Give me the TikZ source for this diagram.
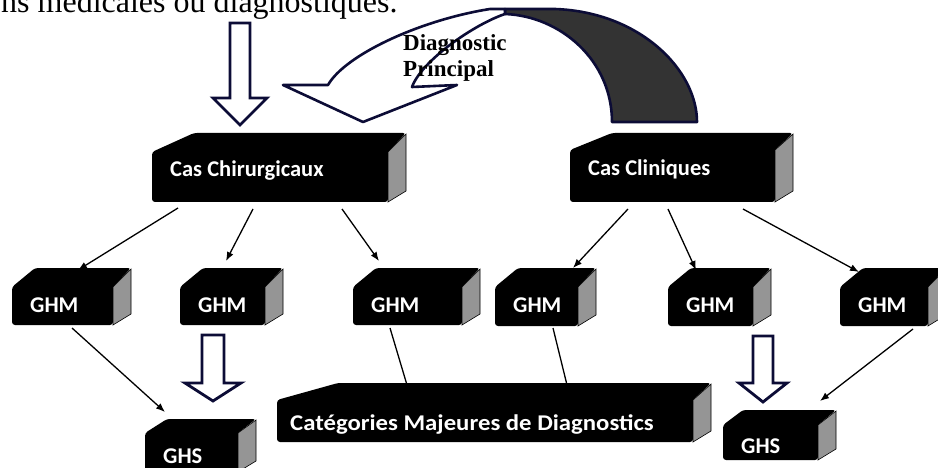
\documentclass[tikz,border=0pt]{standalone}
\usepackage{fontspec}
\setmainfont{Liberation Serif}
\newfontfamily\boxfont{Carlito}
\usetikzlibrary{arrows.meta,calc}

\definecolor{navyline}{HTML}{0C0C36}
\definecolor{sidegray}{HTML}{959595}
\definecolor{bandgray}{HTML}{333333}

% 3D block: name, left, back edge y, front top y, front right x, bottom y,
% left slant offset, text baseline y, text
\newcommand\tdbox[9]{%
  \fill[rounded corners=3pt] (#2,#6) -- (#2,#4) -- (#2+#7,#3) -- (#5+18,#3)
       -- (#5,#4) -- (#5,#6) -- cycle;
  \filldraw[fill=sidegray, draw=black, line width=0.6pt]
       (#5,#4) -- (#5+18,#3+1) -- (#5+18,#6-11) -- (#5,#6) -- cycle;
  \node[boxarea, minimum width={#5+18-#2}, minimum height={#6-#3}] (#1) at (#2,#3) {};
  \node[boxtxt] (#1-t) at (#2+18,#8) {#9};
}

\begin{document}
\begin{tikzpicture}[x=1pt,y=-1pt,
  boxarea/.style={anchor=north west, inner sep=0pt, outer sep=0pt, shape=rectangle},
  boxtxt/.style={anchor=base west, inner sep=0pt, text=white,
                 font=\boxfont\bfseries\fontsize{22.5}{26}\selectfont},
  thinarrow/.style={line width=1.3pt, -{Latex[length=9pt,width=7pt]}},
  thinline/.style={line width=1.3pt},
  blockarrow/.style={fill=white, draw=navyline, line width=2.8pt, line join=miter},
  bandline/.style={draw=navyline, line width=2.6pt, line join=round}]

\useasboundingbox (0,0) rectangle (938,468);
\clip (0,0) rectangle (938,468);
\fill[white] (0,0) rectangle (938,468);

% line of running text above the figure
\node[anchor=base west, inner sep=0pt, font=\fontsize{32}{38}\selectfont]
  (topline) at (1,12.5) {ns médicales ou diagnostiques.};

% curved arrow: dark rising part
\filldraw[fill=bandgray, bandline]
  (612,122) .. controls (612,60) and (560,16) .. (505,14) -- (505,9) -- (555,9)
  .. controls (640,12) and (697,70) .. (697,122) -- cycle;
% curved arrow: light descending part with its head
\filldraw[fill=white, bandline]
  (505,9) -- (505,14) .. controls (475,24) and (422,60) .. (412,87) -- (457,85)
  -- (363,122) -- (283,85) -- (328,85) .. controls (345,55) and (420,20) .. (490,9) -- cycle;
\node[anchor=base west, inner sep=0pt, font=\bfseries\fontsize{23}{26}\selectfont]
  (dp1) at (403,51) {Diagnostic};
\node[anchor=base west, inner sep=0pt, font=\bfseries\fontsize{23}{26}\selectfont]
  (dp2) at (403,77) {Principal};

% blocks
\tdbox{cchir}{152}{133}{152}{388}{202}{42}{177}{Cas Chirurgicaux}
\tdbox{ccli}{570}{133}{150}{775}{202}{42}{176}{Cas Cliniques}
\tdbox{ghm1}{12}{268}{287}{113}{325}{23}{312}{GHM}
\tdbox{ghm2}{180}{268}{287}{265}{325}{23}{312}{GHM}
\tdbox{ghm3}{353}{268}{287}{462}{325}{23}{312}{GHM}
\tdbox{ghm4}{495}{268}{287}{578}{326}{23}{312}{GHM}
\tdbox{ghm5}{668}{268}{287}{753}{326}{23}{312}{GHM}
\tdbox{ghm6}{840}{268}{287}{928}{326}{23}{312}{GHM}
\tdbox{cat}{277}{383}{400}{693}{442}{61}{430}{\hspace*{-5pt}\scalebox{1.1}[1]{Catégories Majeures de Diagnostics}}
\tdbox{ghs1}{145}{419}{433}{238}{472}{22}{463}{GHS}
\tdbox{ghs2}{723}{410}{425}{818}{460}{20}{453}{GHS}

% hollow block arrows
\draw[blockarrow] ([shift={(88,-8)}]cchir.north west) -- ++(-27,-27) -- ++(17,0)
  -- ++(0,-75) -- ++(20,0) -- ++(0,75) -- ++(17,0) -- cycle;
\draw[blockarrow] ([shift={(68,-18)}]ghs1.north west) -- ++(-28,-18) -- ++(17,0)
  -- ++(0,-48) -- ++(22,0) -- ++(0,48) -- ++(17,0) -- cycle;
\draw[blockarrow] ([shift={(40,-8)}]ghs2.north west) -- ++(-24,-19) -- ++(14,0)
  -- ++(0,-47) -- ++(20,0) -- ++(0,47) -- ++(14,0) -- cycle;

% thin connectors
\draw[thinarrow] ([shift={(26,6)}]cchir.south west) -- ([shift={(66,2)}]ghm1.north west);
\draw[thinarrow] ([shift={(101,7)}]cchir.south west) -- ([shift={(46,-7)}]ghm2.north west);
\draw[thinarrow] ([shift={(190,7)}]cchir.south west) -- ([shift={(26,-7)}]ghm3.north west);
\draw[thinarrow] ([shift={(58,7)}]ccli.south west) -- ([shift={(78,0)}]ghm4.north west);
\draw[thinarrow] ([shift={(98,7)}]ccli.south west) -- ([shift={(28,2)}]ghm5.north west);
\draw[thinarrow] ([shift={(173,7)}]ccli.south west) -- ([shift={(19,4)}]ghm6.north west);
\draw[thinarrow] ([shift={(60,3)}]ghm1.south west) -- ([shift={(20,-7)}]ghs1.north west);
\draw[thinarrow] ([shift={(73,3)}]ghm6.south west) -- ([shift={(97,-9)}]ghs2.north west);
\draw[thinline] ([shift={(37,3)}]ghm3.south west) -- ([shift={(130,2)}]cat.north west);
\draw[thinline] ([shift={(58,2)}]ghm4.south west) -- ([shift={(290,2)}]cat.north west);

\end{tikzpicture}
\end{document}
